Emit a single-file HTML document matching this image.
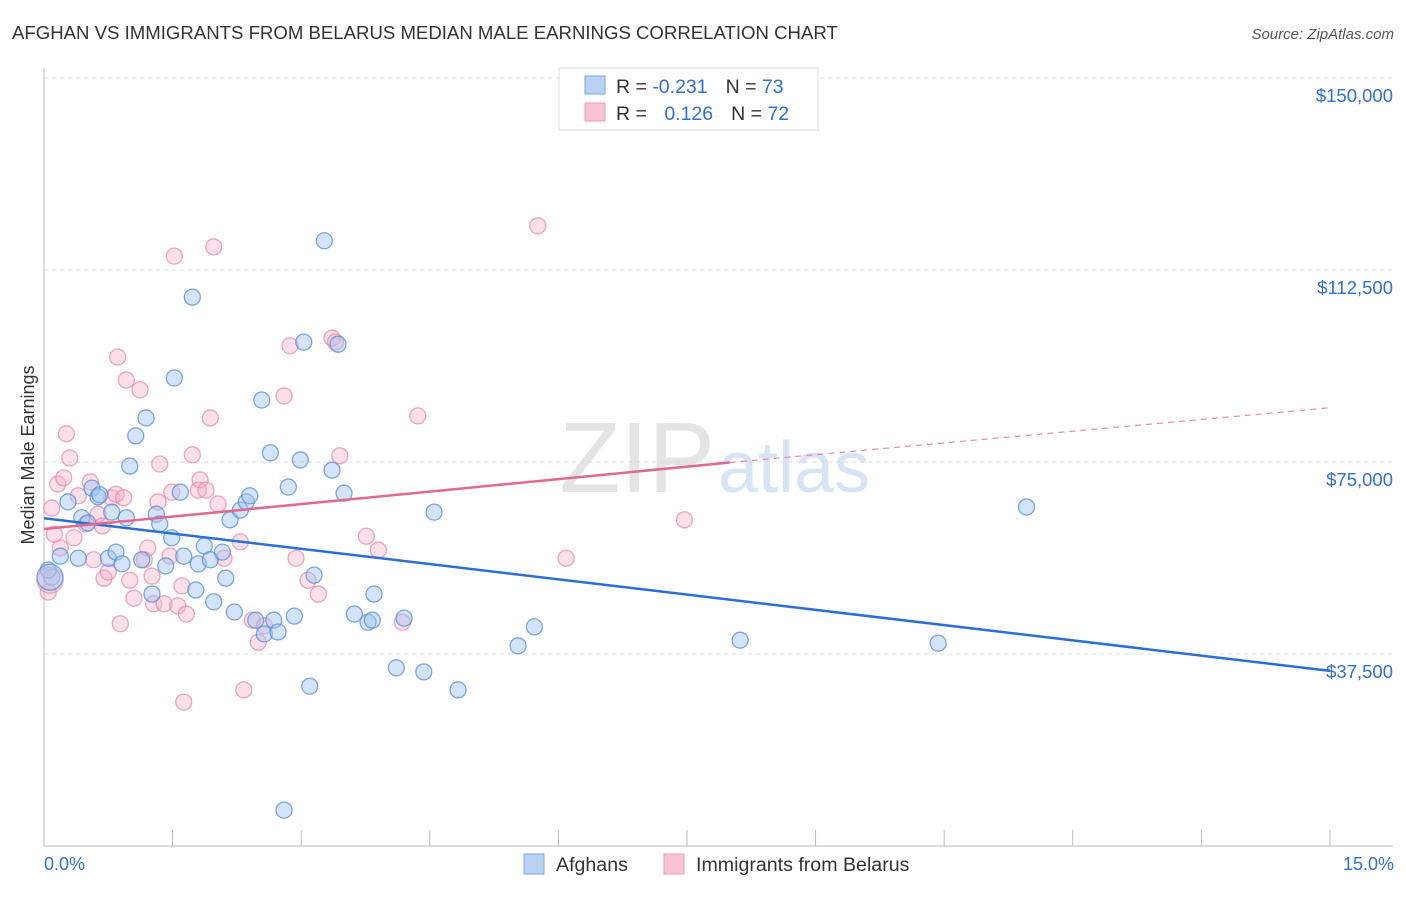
<!DOCTYPE html>
<html><head><meta charset="utf-8"><style>
body{margin:0;background:#fff;font-family:"Liberation Sans",sans-serif;}
svg text{font-family:"Liberation Sans",sans-serif;}
</style></head><body>
<svg id="c" width="1406" height="892" xmlns="http://www.w3.org/2000/svg">
<text x="12" y="39" font-size="18.6" fill="#333">AFGHAN VS IMMIGRANTS FROM BELARUS MEDIAN MALE EARNINGS CORRELATION CHART</text>
<text x="1394" y="39" font-size="15" fill="#555" font-style="italic" text-anchor="end">Source: ZipAtlas.com</text>
<text x="715" y="492" font-size="100" fill="#e4e4e4" text-anchor="end" font-family="Liberation Serif">ZIP</text>
<text x="718" y="492" font-size="72" fill="#d6e4f5">atlas</text>
<text transform="translate(34,455) rotate(-90)" font-size="18" fill="#333" text-anchor="middle">Median Male Earnings</text>
<g id="grid"></g><g id="pts"></g><g id="lines"></g>
<g>
<rect x="559" y="68" width="259" height="62" fill="#fff" stroke="#ddd"/>
<rect x="585" y="76" width="20" height="18" fill="#b8d2f4" stroke="#7aa6e0"/>
<rect x="585" y="103" width="20" height="18" fill="#f8c4d4" stroke="#ea9ab4"/>
<text x="616" y="93" font-size="19.5" fill="#333">R = <tspan fill="#2f6fd6">-0.231</tspan><tspan dx="18">N = </tspan><tspan fill="#2f6fd6">73</tspan></text>
<text x="616" y="120" font-size="19.5" fill="#333">R = <tspan dx="12" fill="#2f6fd6">0.126</tspan><tspan dx="18">N = </tspan><tspan fill="#2f6fd6">72</tspan></text>
</g>
<g>
<rect x="524" y="854" width="20" height="20" fill="#b8d2f4" stroke="#7aa6e0"/>
<text x="556" y="871" font-size="19.6" fill="#333">Afghans</text>
<rect x="664" y="854" width="20" height="20" fill="#f8c4d4" stroke="#ea9ab4"/>
<text x="696" y="871" font-size="19.6" fill="#333">Immigrants from Belarus</text>
</g>
<text x="44" y="870" font-size="18" fill="#2f6fd6">0.0%</text>
<text x="1394" y="870" font-size="18" fill="#2f6fd6" text-anchor="end">15.0%</text>
</svg>
<script>
const yTicks=[37500,75000,112500,150000];
const yTickLabels=["$37,500","$75,000","$112,500","$150,000"];
const blueX=[0.09,0.05,0.19,0.28,0.40,0.44,0.51,0.56,0.63,0.65,0.75,0.79,0.84,0.91,0.96,1.00,1.07,1.14,1.19,1.26,1.31,1.35,1.42,1.49,1.52,1.59,1.63,1.73,1.77,1.80,1.87,1.94,1.98,2.08,2.12,2.17,2.22,2.29,2.36,2.40,2.47,2.54,2.57,2.64,2.68,2.73,2.80,2.85,2.92,2.99,3.03,3.10,3.15,3.27,3.36,3.43,3.50,3.62,3.78,3.83,3.85,4.11,4.20,4.43,4.55,4.83,5.53,5.72,8.12,10.43,11.46];
const blueY=[52.5,53.9,56.6,67.2,56.2,64.1,63.1,69.9,68.2,68.6,56.2,65.2,57.4,55.1,64.1,74.2,80.1,55.9,83.6,49.2,64.8,62.9,54.7,60.2,91.4,69.1,56.6,107.2,50.0,55.1,58.6,55.9,47.7,57.4,52.3,63.7,45.7,65.6,67.2,68.4,44.1,87.1,41.4,76.8,44.1,41.8,7.0,70.1,44.9,75.4,98.4,31.2,52.9,118.2,73.4,98.0,68.9,45.3,43.7,44.1,49.2,34.8,44.5,34.0,65.2,30.5,39.1,42.8,40.2,39.6,66.2];
const pinkX=[0.09,0.16,0.19,0.23,0.26,0.30,0.35,0.40,0.49,0.54,0.58,0.63,0.68,0.70,0.75,0.79,0.84,0.86,0.89,0.93,0.96,1.00,1.05,1.12,1.17,1.21,1.26,1.28,1.33,1.35,1.40,1.47,1.49,1.52,1.56,1.61,1.63,1.66,1.73,1.80,1.82,1.89,1.94,1.98,2.03,2.10,2.29,2.33,2.43,2.50,2.57,2.80,2.87,2.94,3.08,3.20,3.36,3.40,3.45,3.76,3.90,4.18,4.36,5.76,6.09,7.47,0.12,0.05];
const pinkY=[66.0,70.7,58.2,71.9,80.5,75.8,60.2,68.4,62.9,71.1,55.9,64.8,62.5,52.3,53.5,68.0,68.7,95.5,43.4,68.0,91.0,51.9,48.4,89.1,55.9,58.2,52.7,47.3,67.2,74.6,47.3,56.6,69.1,115.2,46.9,50.8,28.1,45.3,76.4,69.5,71.5,69.5,83.6,117.0,66.8,56.2,59.4,30.5,44.1,39.8,43.0,87.9,97.7,56.2,51.9,49.2,99.2,98.4,76.2,60.5,57.8,43.7,84.0,121.1,56.2,63.7,60.9,49.6];
const bigBlue=[0.07,52.5], bigPink=[0.07,51.9];
const blueTrend=[0,64.0,15,34.2], pinkTrend=[0,61.9,8,74.9,15,85.6];
const NS="http://www.w3.org/2000/svg";
const X=v=>44+v*85.73, Y=k=>846-k/0.1953;
function mk(t,a,p){const e=document.createElementNS(NS,t);for(const k in a)e.setAttribute(k,a[k]);p.appendChild(e);return e;}
const g=document.getElementById('grid');
yTicks.forEach((t,i)=>{const y=Y(t/1000);
 const l=mk('line',{x1:44,x2:1393,y1:y,y2:y,stroke:'#ddd','stroke-dasharray':'4,4'},g);
 
 
 const tx=mk('text',{x:1393,y:y+24,'font-size':18.5,fill:'#2f6fd6','text-anchor':'end'},g);tx.textContent=yTickLabels[i];
 
 });
mk('line',{x1:44,x2:44,y1:68,y2:846,stroke:'#bbb'},g);
mk('line',{x1:44,x2:1393,y1:846,y2:846,stroke:'#bbb'},g);
for(let i=0;i<=10;i++){const x=X(i*1.5);const t=mk('line',{x1:x,x2:x,y1:830,y2:846,stroke:'#bbb'},g);
 
 }
const p=document.getElementById('pts');
function dot(x,y,r,blue){const c=mk('circle',{cx:X(x),cy:Y(y),r:r,fill:blue?'rgba(160,196,240,0.45)':'rgba(246,176,200,0.4)',stroke:blue?'rgba(80,140,220,0.75)':'rgba(232,130,165,0.7)','stroke-width':1.3},p);
 
 }
pinkX.forEach((x,i)=>dot(x,pinkY[i],8,false));
blueX.forEach((x,i)=>dot(x,blueY[i],8,true));
dot(bigPink[0],bigPink[1],13,false);dot(bigBlue[0],bigBlue[1],13,true);
const L=document.getElementById('lines');
const b=mk('line',{x1:X(blueTrend[0]),y1:Y(blueTrend[1]),x2:X(blueTrend[2]),y2:Y(blueTrend[3]),stroke:'#2a6fd8','stroke-width':2.5},L);


const s=mk('line',{x1:X(pinkTrend[0]),y1:Y(pinkTrend[1]),x2:X(pinkTrend[2]),y2:Y(pinkTrend[3]),stroke:'#e2688f','stroke-width':2.5},L);


const d=mk('line',{x1:X(pinkTrend[2]),y1:Y(pinkTrend[3]),x2:X(pinkTrend[4]),y2:Y(pinkTrend[5]),stroke:'#e48aa8','stroke-width':1.2,'stroke-dasharray':'6,5'},L);


</script>
</body></html>
